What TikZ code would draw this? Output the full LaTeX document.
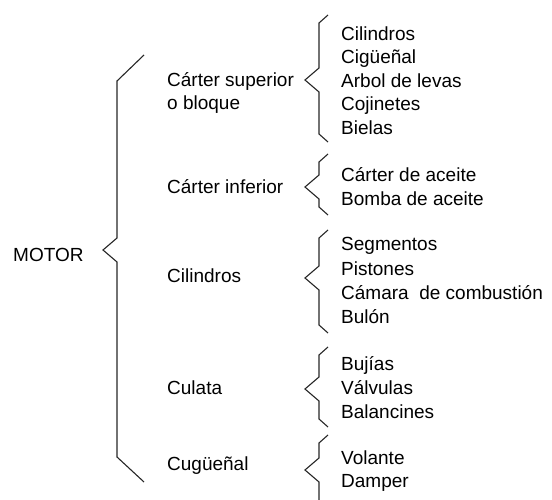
\documentclass[tikz,border=0pt]{standalone}
\usepackage{fontspec}
\setmainfont{Liberation Sans}
\begin{document}
\begin{tikzpicture}[x=1pt,y=-1pt,
  lbl/.style={anchor=base west,inner sep=0pt,font=\fontsize{19}{23}\selectfont},
  brk/.style={draw=black!85,line width=1.1pt,line join=miter}]
\useasboundingbox (0,0) rectangle (552,500);
% small brace: #1 top y, #2 tip y, #3 bottom y
\newcommand\smallbrk[3]{%
  \draw[brk] (328,#1) -- (319,#1+8) -- (319,#2-12) -- (305,#2) -- (319,#2+12) -- (319,#3-8) -- (328,#3);}
% big brace
\draw[brk] (144,55) -- (117,81) -- (117,238) -- (103,250) -- (117,262) -- (117,457) -- (144,482);
\smallbrk{15}{80}{142}
\smallbrk{154}{187}{215}
\smallbrk{230}{278}{333}
\smallbrk{347}{389}{427}
\draw[brk] (328,435) -- (319,443) -- (319,458) -- (305,470) -- (319,482) -- (319,500);
% root
\node[lbl] (motor) at (13,261) {MOTOR};
% middle column
\node[lbl] (csup) at (167,87) {Cárter superior};
\node[lbl] (bloq) at (167,110) {o bloque};
\node[lbl] (cinf) at (167,194) {Cárter inferior};
\node[lbl] (cil) at (167,282) {Cilindros};
\node[lbl] (cul) at (167,394) {Culata};
\node[lbl] (cug) at (167,470) {Cugüeñal};
% right column
\node[lbl] (a1) at (341,40.5) {Cilindros};
\node[lbl] (a2) at (341,64) {Cigüeñal};
\node[lbl] (a3) at (341,87.5) {Arbol de levas};
\node[lbl] (a4) at (341,111) {Cojinetes};
\node[lbl] (a5) at (341,134.5) {Bielas};
\node[lbl] (b1) at (341,182) {Cárter de aceite};
\node[lbl] (b2) at (341,206) {Bomba de aceite};
\node[lbl] (c1) at (341,251) {Segmentos};
\node[lbl] (c2) at (341,275) {Pistones};
\node[lbl] (c3) at (341,299) {Cámara\ \ de combustión};
\node[lbl] (c4) at (341,323) {Bulón};
\node[lbl] (d1) at (341,370) {Bujías};
\node[lbl] (d2) at (341,394) {Válvulas};
\node[lbl] (d3) at (341,418) {Balancines};
\node[lbl] (e1) at (341,464) {Volante};
\node[lbl] (e2) at (341,487) {Damper};
\end{tikzpicture}
\end{document}
